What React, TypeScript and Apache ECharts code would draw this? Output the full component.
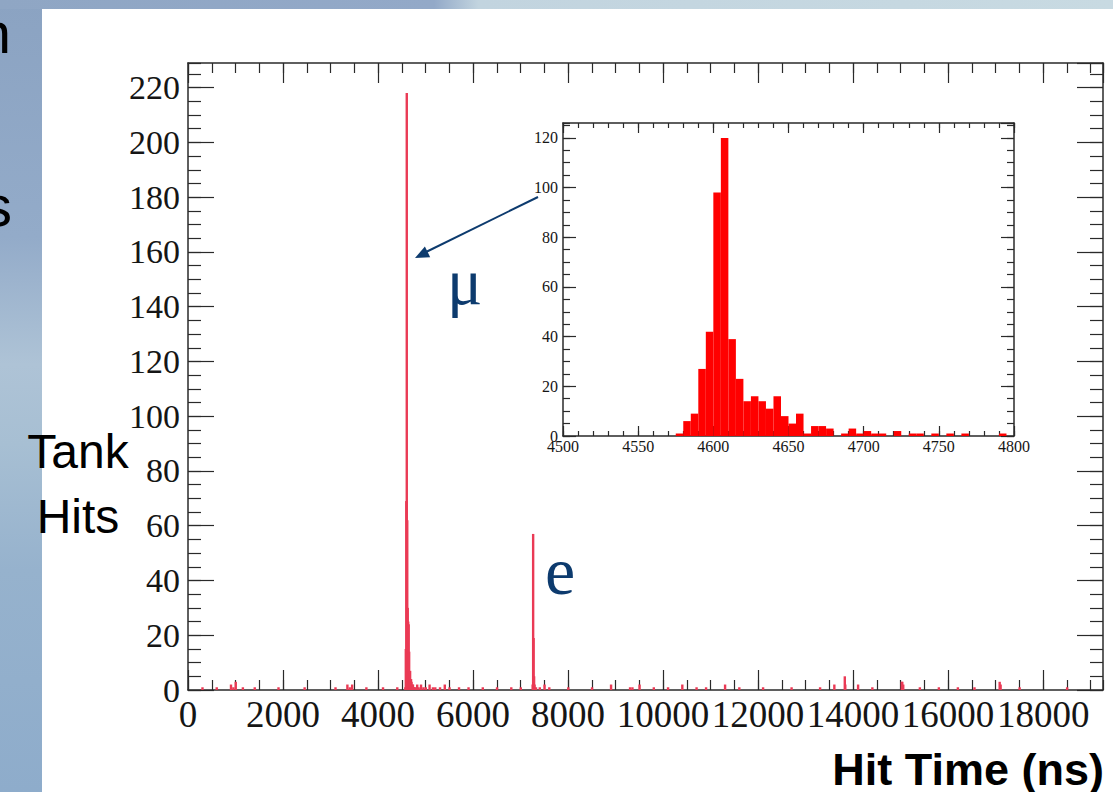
import React, { useEffect, useRef } from "react";
import * as echarts from "echarts";

// ---------------- data ----------------
// Main histogram: 10 ns bins (bin start time, hits)
const mainBinWidth = 10;
const mainTimes = [
  300, 600, 900, 950, 1000, 1150, 1400, 1900, 2450, 3100, 3350, 3400, 3450, 3750, 4100, 4400,
  4570, 4580, 4590, 4600, 4610, 4620, 4630, 4640, 4650, 4660, 4670, 4680, 4690, 4700, 4710, 4720, 4730, 4740, 4750, 4760, 4790,
  4820, 4850, 4900, 4950, 5000, 5080, 5150, 5200, 5300, 5400, 5500, 5700, 5900, 6200, 6500, 6800, 7000,
  7250, 7260, 7270, 7280, 7290, 7320, 7400, 7500, 7600,
  8000, 8500, 8900, 9300, 9350, 9500, 9800, 10100, 10400, 10700, 10900, 11300, 11600, 12100, 12700, 13300, 13600,
  13820, 13830, 14100, 14400, 15020, 15030, 15050, 15400, 15800, 16200, 16550, 17080, 17100, 17500, 18500,
];
const mainCounts = [
  1, 1, 2, 1, 3, 1, 1, 1, 1, 1, 2, 1, 2, 1, 1, 1,
  1, 15, 69, 218, 62, 30, 25, 24, 14, 5, 7, 1, 4, 3, 1, 2, 2, 1, 1, 1, 1,
  2, 1, 2, 1, 1, 2, 1, 1, 1, 2, 1, 1, 1, 1, 1, 1, 1,
  2, 57, 19, 5, 2, 1, 1, 2, 1,
  1, 1, 2, 1, 1, 2, 1, 1, 2, 1, 1, 2, 1, 1, 1, 1, 2,
  5, 2, 2, 1, 3, 3, 2, 1, 1, 1, 1, 3, 2, 1, 1,
];

// Inset histogram: 5 ns bins around the muon peak
const insetBinWidth = 5;
const insetTimes = [
  4575, 4580, 4585, 4590, 4595, 4600, 4605, 4610, 4615, 4620, 4625, 4630, 4635, 4640, 4645, 4650, 4655,
  4660, 4665, 4670, 4675, 4685, 4690, 4695, 4700, 4705, 4710, 4720, 4730, 4735, 4745, 4755, 4765, 4790,
];
const insetCounts = [
  1, 6, 9, 27, 42, 98, 120, 39, 23, 14, 16, 14, 11, 16, 8, 5, 9,
  1, 4, 4, 3, 1, 3, 1, 2, 1, 1, 2, 1, 1, 1, 1, 1, 1,
];

// axis ranges / ticks
const mainXRange = [0, 19260];
const mainYRange = [0, 229];
const mainXMajor = 2000;
const mainXMinor = 500;
const mainYMajor = 20;
const mainYMinor = 5;
const insetXRange = [4500, 4800];
const insetYRange = [0, 126];
const insetXMajor = 50;
const insetXMinor = 10;
const insetYMajor = 20;
const insetYMinor = 5;

const xTitle = "Hit Time (ns)";
const yTitleLines = ["Tank", "Hits"];
const muLabel = "μ";
const eLabel = "e";

// ---------------- helpers ----------------
const frameColor = "#2a2a2a";
const serif = "Liberation Serif";
const sans = "Liberation Sans";
const navy = "#0d3b6e";

function makeAxis(
  gridIndex: number,
  position: string,
  range: number[],
  interval: number,
  tickLen: number,
  showLine: boolean,
  label: null | { size: number; margin: number; showMax: boolean }
) {
  return {
    type: "value",
    gridIndex,
    position,
    min: range[0],
    max: range[1],
    interval,
    axisLine: { show: showLine, onZero: false, lineStyle: { color: frameColor, width: 1.5 } },
    axisTick: { show: true, inside: true, length: tickLen, lineStyle: { color: frameColor, width: 1.2 } },
    minorTick: { show: false },
    splitLine: { show: false },
    axisLabel: label
      ? {
          show: true,
          fontSize: label.size,
          fontFamily: serif,
          color: "#151515",
          margin: label.margin,
          showMaxLabel: label.showMax,
          showMinLabel: true,
          hideOverlap: false,
          formatter: (v: number) => String(v),
        }
      : { show: false },
  };
}

function histRender(binWidth: number, minPx: number, color: string) {
  return (params: any, api: any) => {
    const x0 = api.value(0);
    const n = api.value(1);
    const p0 = api.coord([x0, 0]);
    const p1 = api.coord([x0 + binWidth, n]);
    let left = p0[0];
    let w = p1[0] - p0[0];
    if (w < minPx) {
      left = (p0[0] + p1[0]) / 2 - minPx / 2;
      w = minPx;
    }
    return {
      type: "rect",
      shape: { x: left, y: p1[1], width: w, height: p0[1] - p1[1] },
      style: { fill: color },
    };
  };
}

function txt(text: string, x: number, y: number, size: number, family: string, color: string, align: string, vAlign: string, weight = "normal") {
  return {
    type: "text",
    z: 100,
    style: {
      text,
      x,
      y,
      fontSize: size,
      fontFamily: family,
      fontWeight: weight,
      fill: color,
      align,
      verticalAlign: vAlign,
    },
  };
}

function titleText(text: string, left: number, top: number, size: number) {
  return {
    text,
    left,
    top,
    padding: 0,
    textStyle: { fontFamily: serif, fontSize: size, fontWeight: "normal", color: navy, lineHeight: size },
  };
}

export default function App() {
  const ref = useRef<HTMLDivElement>(null);

  useEffect(() => {
    document.body.style.margin = "0";
    if (!ref.current) return;
    const chart = echarts.init(ref.current, undefined, { renderer: "svg" });

    const mainData = mainTimes.map((t, i) => [t, mainCounts[i]]);
    const insetData = insetTimes.map((t, i) => [t, insetCounts[i]]);

    const option: any = {
      animation: false,
      backgroundColor: "#ffffff",
      title: [titleText(muLabel, 447, 248, 66), titleText(eLabel, 545, 537, 68)],
      grid: [
        { left: 188, top: 63, width: 915, height: 627, outerBoundsMode: "none", containLabel: false },
        {
          left: 563,
          top: 123,
          width: 451,
          height: 313,
          show: true,
          backgroundColor: "#ffffff",
          borderWidth: 0,
          outerBoundsMode: "none",
          containLabel: false,
        },
      ],
      xAxis: [
        makeAxis(0, "bottom", mainXRange, mainXMajor, 20, true, { size: 37, margin: 6, showMax: false }),
        makeAxis(0, "bottom", mainXRange, mainXMinor, 10, false, null),
        makeAxis(0, "top", mainXRange, mainXMajor, 20, true, null),
        makeAxis(0, "top", mainXRange, mainXMinor, 10, false, null),
        makeAxis(1, "bottom", insetXRange, insetXMajor, 10, true, { size: 16, margin: 2, showMax: true }),
        makeAxis(1, "bottom", insetXRange, insetXMinor, 5, false, null),
        makeAxis(1, "top", insetXRange, insetXMajor, 10, true, null),
        makeAxis(1, "top", insetXRange, insetXMinor, 5, false, null),
      ],
      yAxis: [
        makeAxis(0, "left", mainYRange, mainYMajor, 26, true, { size: 34, margin: 8, showMax: false }),
        makeAxis(0, "left", mainYRange, mainYMinor, 13, false, null),
        makeAxis(0, "right", mainYRange, mainYMajor, 26, true, null),
        makeAxis(0, "right", mainYRange, mainYMinor, 13, false, null),
        makeAxis(1, "left", insetYRange, insetYMajor, 13, true, { size: 16, margin: 5, showMax: false }),
        makeAxis(1, "left", insetYRange, insetYMinor, 7, false, null),
        makeAxis(1, "right", insetYRange, insetYMajor, 13, true, null),
        makeAxis(1, "right", insetYRange, insetYMinor, 7, false, null),
      ],
      series: [
        {
          type: "custom",
          name: "main",
          xAxisIndex: 0,
          yAxisIndex: 0,
          data: mainData,
          encode: { x: 0, y: 1 },
          renderItem: histRender(mainBinWidth, 2.4, "#ea3a55"),
          clip: true,
          silent: true,
        },
        {
          type: "custom",
          name: "inset",
          xAxisIndex: 4,
          yAxisIndex: 4,
          data: insetData,
          encode: { x: 0, y: 1 },
          renderItem: histRender(insetBinWidth, 1, "#ff0000"),
          clip: true,
          silent: true,
          z: 5,
        },
      ],
      graphic: [
        {
          type: "rect",
          z: -10,
          shape: { x: 0, y: 0, width: 42, height: 792 },
          style: {
            fill: new echarts.graphic.LinearGradient(0, 0, 0, 1, [
              { offset: 0, color: "#8ba3c2" },
              { offset: 0.3, color: "#93abc9" },
              { offset: 0.46, color: "#aec3d6" },
              { offset: 0.56, color: "#a7bfd3" },
              { offset: 0.72, color: "#96b2cd" },
              { offset: 1, color: "#8eaccb" },
            ]),
          },
        },
        {
          type: "rect",
          z: -10,
          shape: { x: 0, y: 0, width: 1113, height: 9 },
          style: {
            fill: new echarts.graphic.LinearGradient(0, 0, 1, 0, [
              { offset: 0, color: "#8fa6c4" },
              { offset: 0.39, color: "#93a9c8" },
              { offset: 0.43, color: "#c2d4df" },
              { offset: 1, color: "#c8dae2" },
            ]),
          },
        },
        txt("n", 11, 32, 58, sans, "#000", "right", "middle"),
        txt("s", 12, 205, 58, sans, "#000", "right", "middle"),
        txt(yTitleLines[0], 78, 451, 48, sans, "#000", "center", "middle"),
        txt(yTitleLines[1], 78, 516, 48, sans, "#000", "center", "middle"),
        txt(xTitle, 1104, 769, 45, sans, "#000", "right", "middle", "bold"),
        {
          type: "line",
          z: 100,
          shape: { x1: 538, y1: 197, x2: 424, y2: 253 },
          style: { stroke: navy, lineWidth: 2 },
        },
        {
          type: "polygon",
          z: 100,
          shape: { points: [[415, 258], [430.2, 257.2], [424.9, 246.4]] },
          style: { fill: navy },
        },
      ],
    };

    chart.setOption(option);
    return () => chart.dispose();
  }, []);

  return <div ref={ref} style={{ width: 1113, height: 792, background: "#fff" }} />;
}
